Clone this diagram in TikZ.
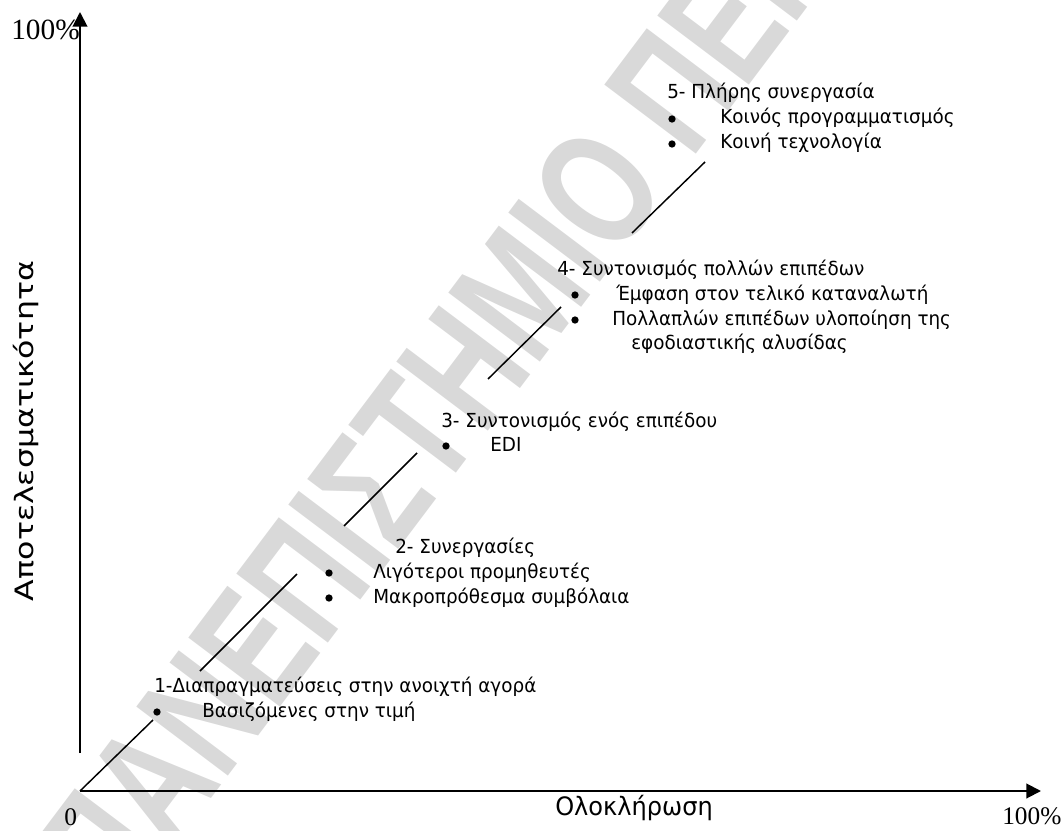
\documentclass[tikz,border=0pt]{standalone}
\usepackage{fontspec}
\setmainfont[FakeStretch=0.95]{DejaVu Sans}
\newfontfamily\seriff{Liberation Serif}
\newfontfamily\wmfont[FakeStretch=0.72]{Liberation Sans Bold}
\newfontfamily\tallfont[FakeStretch=1.25]{DejaVu Sans}
\usetikzlibrary{arrows.meta}
\tikzset{
  lbl/.style={anchor=base west, inner sep=0pt, font=\fontsize{14.5}{16}\selectfont},
  num/.style={anchor=base west, inner sep=0pt, font=\seriff\fontsize{19}{22}\selectfont},
  dot/.style={circle, fill=black, inner sep=0pt, minimum size=5.5pt},
  axis/.style={line width=1.5pt, -{Triangle[length=11pt,width=11pt]}},
  link/.style={line width=1.1pt},
  wm/.style={anchor=base west, inner sep=0pt, text=black!15, rotate=53, font=\wmfont\fontsize{125}{130}\selectfont}
}
\begin{document}
\begin{tikzpicture}[x=0.75pt,y=-0.75pt]
\useasboundingbox (0,0) rectangle (1064,831);
% watermark
\begin{scope}
\clip (0,0) rectangle (1064,831);
\node[wm] (wmark) at (119,921) {ΠΑΝΕΠΙΣΤΗΜΙΟ ΠΕΙΡΑΙΩΣ};
\end{scope}

% axes
\coordinate (O) at (80,791);
\coordinate (Xend) at (1041,791);
\coordinate (Ystart) at (80,753);
\coordinate (Yend) at (80,12);
\draw[axis] (O) -- (Xend);
\draw[axis] (Ystart) -- (Yend);

\node[num, font=\seriff\fontsize{22}{24}\selectfont] (ytop) at (11,40) {100\%};
\node[num] (zero) at (64,825) {0};
\node[num] (xright) at (1002,824) {100\%};
\node[anchor=base west, inner sep=0pt, font=\fontsize{19}{21}\selectfont] (xlab) at (555,815) {Ολοκλήρωση};
\node[anchor=base, rotate=90, inner sep=0pt, font=\tallfont\fontsize{19}{22}\selectfont] (ylab) at (33,431) {Αποτελεσματικότητα};

% stage 1
\node[lbl] (t1) at (154,692) {1-Διαπραγματεύσεις στην ανοιχτή αγορά};
\node[dot] (b1) at (157,712) {};
\node[lbl] (t1a) at (202,717) {Βασιζόμενες στην τιμή};

% stage 2
\node[lbl] (t2) at (395,553) {2- Συνεργασίες};
\node[dot] (b2a) at (329,573) {};
\node[lbl] (t2a) at (373,578) {Λιγότεροι προμηθευτές};
\node[dot] (b2b) at (329,598) {};
\node[lbl] (t2b) at (373,603) {Μακροπρόθεσμα συμβόλαια};

% stage 3
\node[lbl] (t3) at (441,427) {3- Συντονισμός ενός επιπέδου};
\node[dot] (b3) at (446,446) {};
\node[lbl] (t3a) at (490,451) {EDI};

% stage 4
\node[lbl] (t4) at (557,275) {4- Συντονισμός πολλών επιπέδων};
\node[dot] (b4a) at (575,295) {};
\node[lbl] (t4a) at (616,300) {Έμφαση στον τελικό καταναλωτή};
\node[dot] (b4b) at (575,320) {};
\node[lbl] (t4b) at (612,325) {Πολλαπλών επιπέδων υλοποίηση της};
\node[lbl] (t4c) at (631,349) {εφοδιαστικής αλυσίδας};

% stage 5
\node[lbl] (t5) at (667,99) {5- Πλήρης συνεργασία};
\node[dot] (b5a) at (672,119) {};
\node[lbl] (t5a) at (720,124) {Κοινός προγραμματισμός};
\node[dot] (b5b) at (672,144) {};
\node[lbl] (t5b) at (720,149) {Κοινή τεχνολογία};

% connecting segments
\coordinate (l1e) at (153,720);
\coordinate (l2s) at (200,671);
\coordinate (l2e) at (297,574);
\coordinate (l3s) at (344,526);
\coordinate (l3e) at (417,453);
\coordinate (l4s) at (488,379);
\coordinate (l4e) at (561,307);
\coordinate (l5s) at (632,233);
\coordinate (l5e) at (705,162);
\draw[link] (O) -- (l1e);
\draw[link] (l2s) -- (l2e);
\draw[link] (l3s) -- (l3e);
\draw[link] (l4s) -- (l4e);
\draw[link] (l5s) -- (l5e);
\end{tikzpicture}
\end{document}
